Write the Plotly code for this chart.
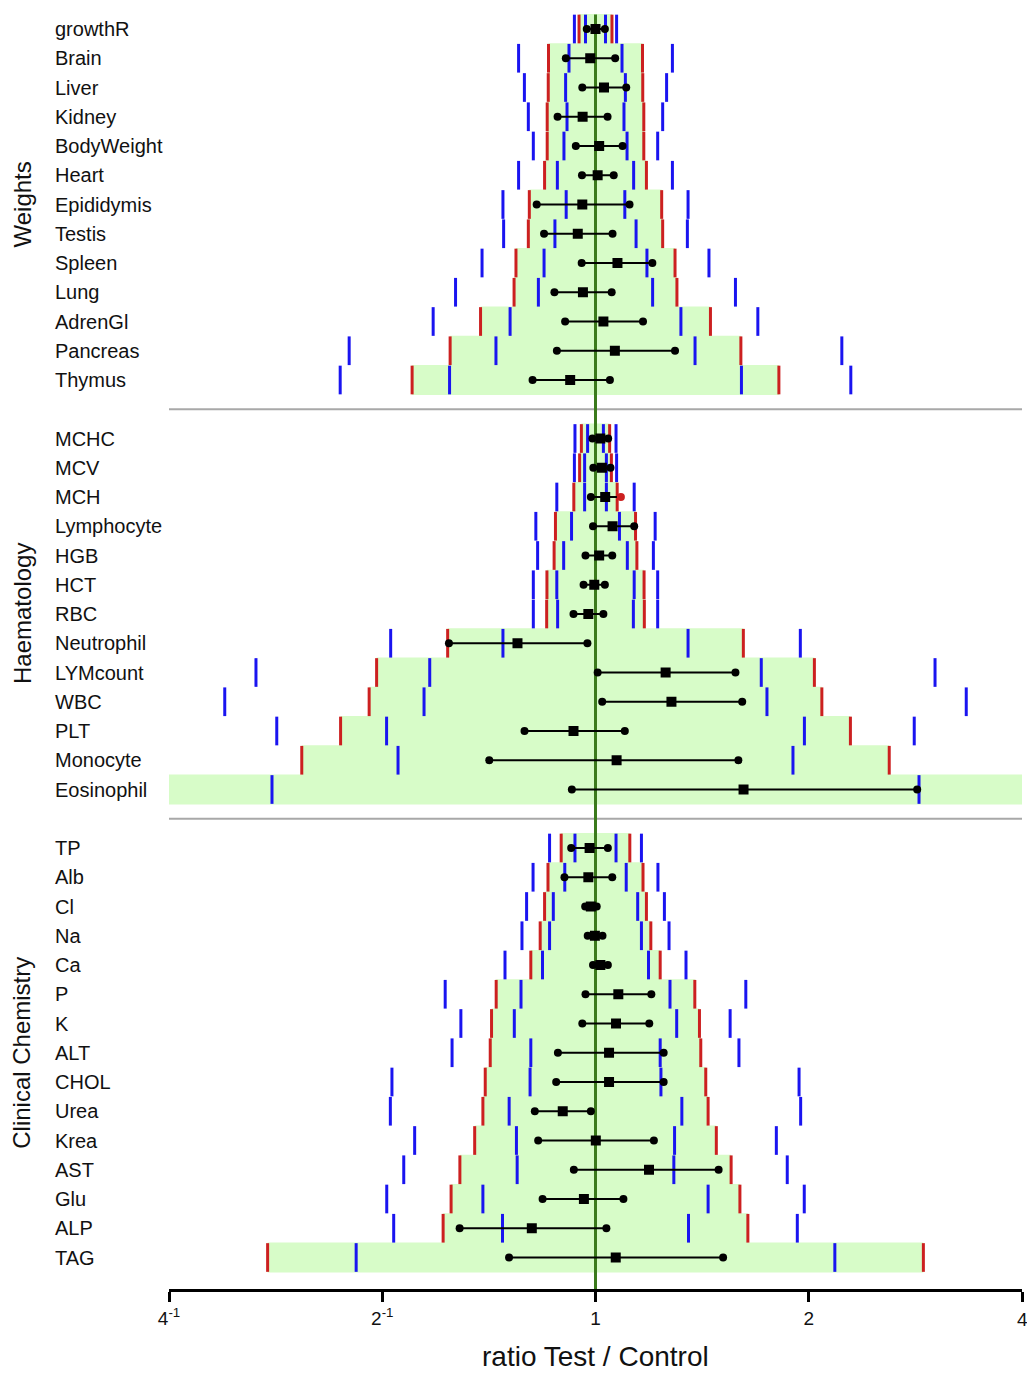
import math
import plotly.graph_objects as go

# ---------------- data (ratios Test / Control) ----------------
# Weights
w_names = ["growthR", "Brain", "Liver", "Kidney", "BodyWeight", "Heart", "Epididymis",
           "Testis", "Spleen", "Lung", "AdrenGl", "Pancreas", "Thymus"]
w_est = [1.000, 0.983, 1.028, 0.959, 1.012, 1.007, 0.958, 0.944, 1.074, 0.960, 1.026, 1.065, 0.921]
w_lo = [0.972, 0.908, 0.958, 0.884, 0.938, 0.957, 0.826, 0.846, 0.956, 0.875, 0.906, 0.882, 0.815]
w_hi = [1.031, 1.066, 1.105, 1.040, 1.092, 1.061, 1.117, 1.057, 1.203, 1.054, 1.167, 1.295, 1.048]
w_inner = [1.033, 1.090, 1.102, 1.097, 1.108, 1.132, 1.100, 1.141, 1.182, 1.204, 1.320, 1.382, 1.607]
w_red = [1.055, 1.165, 1.166, 1.170, 1.170, 1.180, 1.240, 1.244, 1.295, 1.303, 1.453, 1.604, 1.815]
w_outer = [1.071, 1.284, 1.260, 1.244, 1.224, 1.284, 1.351, 1.348, 1.446, 1.576, 1.695, 2.227, 2.293]

# Haematology
h_names = ["MCHC", "MCV", "MCH", "Lymphocyte", "HGB", "HCT", "RBC", "Neutrophil",
           "LYMcount", "WBC", "PLT", "Monocyte", "Eosinophil"]
h_est = [1.016, 1.021, 1.032, 1.057, 1.012, 0.996, 0.977, 0.776, 1.256, 1.280, 0.931, 1.071, 1.618]
h_lo = [0.990, 0.993, 0.985, 0.992, 0.968, 0.962, 0.931, 0.621, 1.007, 1.022, 0.794, 0.708, 0.926]
h_hi = [1.042, 1.050, 1.086, 1.134, 1.056, 1.031, 1.026, 0.974, 1.576, 1.611, 1.100, 1.591, 2.845]
h_inner = [1.026, 1.036, 1.036, 1.081, 1.109, 1.134, 1.131, 1.351, 1.714, 1.746, 1.972, 1.900, 2.862]
h_red = [1.047, 1.053, 1.073, 1.139, 1.144, 1.171, 1.172, 1.617, 2.037, 2.087, 2.290, 2.598, 4.5]
h_outer = [1.069, 1.071, 1.134, 1.214, 1.207, 1.224, 1.224, 1.946, 3.015, 3.337, 2.818, 4.6, 6.0]

# Clinical Chemistry
c_names = ["TP", "Alb", "Cl", "Na", "Ca", "P", "K", "ALT", "CHOL", "Urea", "Krea",
           "AST", "Glu", "ALP", "TAG"]
c_est = [0.981, 0.977, 0.985, 0.998, 1.016, 1.077, 1.069, 1.045, 1.045, 0.899, 1.001, 1.190, 0.963, 0.813, 1.068]
c_lo = [0.924, 0.904, 0.967, 0.975, 0.992, 0.968, 0.958, 0.885, 0.880, 0.821, 0.830, 0.932, 0.842, 0.643, 0.755]
c_hi = [1.041, 1.056, 1.004, 1.023, 1.041, 1.199, 1.191, 1.248, 1.248, 0.985, 1.209, 1.492, 1.095, 1.036, 1.514]
c_inner = [1.069, 1.105, 1.147, 1.161, 1.188, 1.274, 1.302, 1.234, 1.237, 1.324, 1.293, 1.290, 1.442, 1.353, 2.177]
c_red = [1.118, 1.167, 1.180, 1.197, 1.234, 1.381, 1.402, 1.408, 1.431, 1.442, 1.481, 1.554, 1.599, 1.641, 2.903]
c_outer = [1.161, 1.225, 1.251, 1.270, 1.342, 1.630, 1.549, 1.594, 1.938, 1.948, 1.800, 1.865, 1.971, 1.927, 4.4]

section_titles = ["Weights", "Haematology", "Clinical Chemistry"]
tick_vals = [0.25, 0.5, 1, 2, 4]
tick_text = ["4<sup>-1</sup>", "2<sup>-1</sup>", "1", "2", "4"]
x_title = "ratio Test / Control"

# ---------------- styling ----------------
BLUE = "#1a14f0"
RED = "#cc2020"
BAND = "#d7fcc8"
CENTER = "#3b7a1c"
FONT = "Liberation Sans, Arial, sans-serif"

sections = [
    (w_names, w_est, w_lo, w_hi, w_inner, w_red, w_outer),
    (h_names, h_est, h_lo, h_hi, h_inner, h_red, h_outer),
    (c_names, c_est, c_lo, c_hi, c_inner, c_red, c_outer),
]

rows = []
sep_slots = []
sec_centers = []
slot = 0
for si, (names, est, lo, hi, inner, red, outer) in enumerate(sections):
    first = slot
    for k in range(len(names)):
        rows.append(dict(name=names[k], est=est[k], lo=lo[k], hi=hi[k],
                         inner=inner[k], red=red[k], outer=outer[k], y=slot))
        slot += 1
    sec_centers.append((first + slot - 1) / 2)
    if si < len(sections) - 1:
        sep_slots.append(slot)
        slot += 1

fig = go.Figure()

# green bands between the red limits
bx, by = [], []
for r in rows:
    a, b = 1 / r["red"], r["red"]
    y0, y1 = r["y"] - 0.51, r["y"] + 0.51
    bx += [a, b, b, a, a, None]
    by += [y0, y0, y1, y1, y0, None]
fig.add_trace(go.Scatter(x=bx, y=by, mode="lines", fill="toself", fillcolor=BAND,
                         line=dict(width=0, color=BAND), hoverinfo="skip"))

# blue limits (inner and outer)
blx, bly = [], []
for r in rows:
    for v in (r["inner"], r["outer"]):
        blx += [1 / v, v]
        bly += [r["y"], r["y"]]
fig.add_trace(go.Scatter(x=blx, y=bly, mode="markers",
                         marker=dict(symbol="line-ns", size=20.5,
                                     line=dict(width=3, color=BLUE))))

# red limits
rlx, rly = [], []
for r in rows:
    rlx += [1 / r["red"], r["red"]]
    rly += [r["y"], r["y"]]
fig.add_trace(go.Scatter(x=rlx, y=rly, mode="markers",
                         marker=dict(symbol="line-ns", size=20.5,
                                     line=dict(width=3, color=RED))))

# separators between sections
for s in sep_slots:
    fig.add_trace(go.Scatter(x=[0.25, 4], y=[s, s], mode="lines",
                             line=dict(color="#a8a8a8", width=2)))

# reference line at ratio 1
fig.add_trace(go.Scatter(x=[1, 1], y=[-0.5, slot + 0.1], mode="lines",
                         line=dict(color=CENTER, width=3)))

# confidence intervals
lx, ly = [], []
dx, dy, dc = [], [], []
for r in rows:
    lx += [r["lo"], r["hi"], None]
    ly += [r["y"], r["y"], None]
    lim = r["red"]
    for v in (r["lo"], r["hi"]):
        dx.append(v)
        dy.append(r["y"])
        dc.append(RED if (v > lim or v < 1 / lim) else "black")
fig.add_trace(go.Scatter(x=lx, y=ly, mode="lines", line=dict(color="black", width=2)))
fig.add_trace(go.Scatter(x=dx, y=dy, mode="markers",
                         marker=dict(symbol="circle", size=8, color=dc)))
fig.add_trace(go.Scatter(x=[r["est"] for r in rows], y=[r["y"] for r in rows],
                         mode="markers",
                         marker=dict(symbol="square", size=10, color="black")))

# ---------------- layout ----------------
PLOT_L, PLOT_R = 169, 1022
PLOT_H = 1289
ROW_PX = 29.25
TOP_PX = 29.0
y_top = -TOP_PX / ROW_PX
y_bot = y_top + PLOT_H / ROW_PX
pw = PLOT_R - PLOT_L

annotations = []
for r in rows:
    annotations.append(dict(x=(53 - PLOT_L) / pw, xref="paper", y=r["y"], yref="y",
                            text=r["name"], showarrow=False, xanchor="left",
                            yanchor="middle", font=dict(size=20, color="#111", family=FONT)))
for t, c in zip(section_titles, sec_centers):
    annotations.append(dict(x=(22 - PLOT_L) / pw, xref="paper", y=c, yref="y",
                            text=t, showarrow=False, textangle=-90, xanchor="center",
                            yanchor="middle", font=dict(size=24, color="#111", family=FONT)))
annotations.append(dict(x=0.5, xref="paper", y=(PLOT_H - 1356) / PLOT_H, yref="paper",
                        text=x_title, showarrow=False, xanchor="center", yanchor="middle",
                        font=dict(size=28, color="#111", family=FONT)))
# last tick label sits on the right page edge (partly cut, as in the original)
annotations.append(dict(x=1.0, xref="paper", y=(PLOT_H - 1319) / PLOT_H, yref="paper",
                        text=tick_text[-1], showarrow=False, xanchor="center",
                        yanchor="middle", font=dict(size=19, color="#111", family=FONT)))

fig.update_layout(
    width=1027, height=1373,
    margin=dict(l=PLOT_L, r=1027 - PLOT_R, t=0, b=1373 - PLOT_H),
    paper_bgcolor="white", plot_bgcolor="white",
    showlegend=False,
    annotations=annotations,
    xaxis=dict(type="log", range=[math.log10(0.25), math.log10(4)],
               tickvals=tick_vals, ticktext=tick_text,
               ticks="outside", ticklen=10, tickwidth=3, tickcolor="black",
               showline=True, linewidth=3, linecolor="black",
               showgrid=False, zeroline=False, ticklabelstandoff=0,
               tickfont=dict(size=19, color="#111", family=FONT)),
    yaxis=dict(range=[y_bot, y_top], visible=False, showgrid=False, zeroline=False),
)

fig.write_html(
    "out.html",
    config={"displayModeBar": False},
    post_script="document.body.style.margin='0';document.body.style.padding='0';"
                "document.body.style.overflow='hidden';",
)
